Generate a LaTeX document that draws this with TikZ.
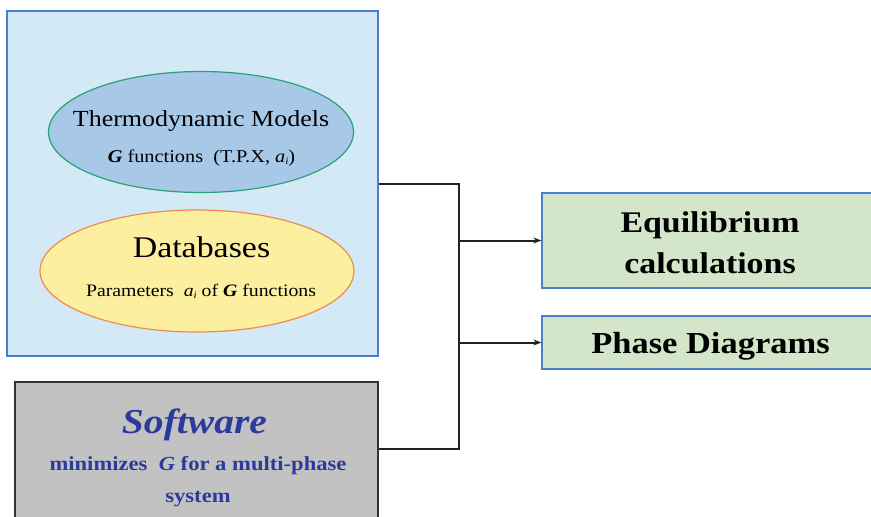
\documentclass[tikz,border=0pt]{standalone}
\usepackage{fontspec}
\setmainfont{Liberation Serif}
\usetikzlibrary{shapes.geometric,arrows.meta}
\definecolor{bluebg}{HTML}{D3E9F5}
\definecolor{blueedge}{HTML}{4A7FD0}
\definecolor{ellblue}{HTML}{A8C8E8}
\definecolor{ellblueedge}{HTML}{2AA07A}
\definecolor{ellyellow}{HTML}{FCF0A0}
\definecolor{ellyellowedge}{HTML}{F08A50}
\definecolor{swgray}{HTML}{C2C2C2}
\definecolor{swedge}{HTML}{333333}
\definecolor{swtext}{HTML}{2B3A9C}
\definecolor{greenbg}{HTML}{D3E6C9}
\definecolor{conn}{HTML}{222222}
\newcommand{\fsz}[1]{\fontsize{#1}{#1}\selectfont}
\newcommand{\hs}[1]{\scalebox{1.13}[1]{#1}}
\newcommand{\aisub}{\textit{a}\raisebox{-0.3ex}{\fsz{10}\textit{i}}}
\newcommand{\Gb}{\textbf{\textit{G}}}
\tikzset{
  panel/.style={draw=blueedge, line width=1.2pt, fill=bluebg, rectangle, inner sep=0pt},
  ell/.style={ellipse, inner sep=0pt, line width=1.2pt},
  swbox/.style={draw=swedge, line width=1.5pt, fill=swgray, rectangle, inner sep=0pt},
  resbox/.style={draw=blueedge, line width=1.2pt, fill=greenbg, rectangle, inner sep=0pt},
  lbl/.style={anchor=base, inner sep=0pt},
  link/.style={draw=conn, line width=2pt},
  arr/.style={link, -{Stealth[length=8pt,width=6pt]}}
}
\begin{document}
\begin{tikzpicture}[x=1pt,y=-1pt]
\useasboundingbox[fill=white] (0,0) rectangle (871,517);
% left panel
\node[panel, minimum width=371pt, minimum height=345pt] (panel) at (192.5,183.5) {};
\node[ell, draw=ellblueedge, fill=ellblue, minimum width=305pt, minimum height=121pt] (models) at (201,132) {};
\node[ell, draw=ellyellowedge, fill=ellyellow, minimum width=314pt, minimum height=122pt] (db) at (197,271) {};
\node[lbl, font=\fsz{23}] (modelsT) at (201,126) {\hs{Thermodynamic Models}};
\node[lbl, font=\fsz{18}] (modelsG) at (201.5,162) {\hs{\Gb{} functions\ \ (T.P.X, \aisub)}};
\node[lbl, font=\fsz{30}] (dbT) at (201.5,257) {\hs{Databases}};
\node[lbl, font=\fsz{17.5}] (dbP) at (201,296) {\hs{Parameters\ \ \aisub{} of \Gb{} functions}};
% software
\node[swbox, minimum width=363pt, minimum height=160pt] (sw) at (196.5,462) {};
\node[lbl, font=\fsz{35}\bfseries\itshape, text=swtext] (swT) at (194.5,433) {\hs{Software}};
\node[lbl, font=\fsz{20}\bfseries, text=swtext] (swL1) at (198,470) {\hs{minimizes\ \ \textit{G} for a multi-phase}};
\node[lbl, font=\fsz{20}\bfseries, text=swtext] (swL2) at (198,502) {\hs{system}};
% results
\node[resbox, minimum width=336pt, minimum height=95pt] (eq) at (710,240.5) {};
\node[lbl, font=\fsz{30}\bfseries] (eqT1) at (710,232) {\hs{Equilibrium}};
\node[lbl, font=\fsz{30}\bfseries] (eqT2) at (710,273) {\hs{calculations}};
\node[resbox, minimum width=336pt, minimum height=53pt] (pd) at (710,342.5) {};
\node[lbl, font=\fsz{30.5}\bfseries] (pdT) at (710.5,353) {\hs{Phase Diagrams}};
% connectors
\coordinate (jt) at (459,183.5);
\coordinate (jb) at (459,449);
\coordinate (ja) at (459,240.5);
\coordinate (jp) at (459,342.5);
\draw[link] (panel.east) -- (jt) -- (jb) -- (jb -| sw.east);
\draw[arr] (ja) -- (eq.west);
\draw[arr] (jp) -- (pd.west);
\end{tikzpicture}
\end{document}
